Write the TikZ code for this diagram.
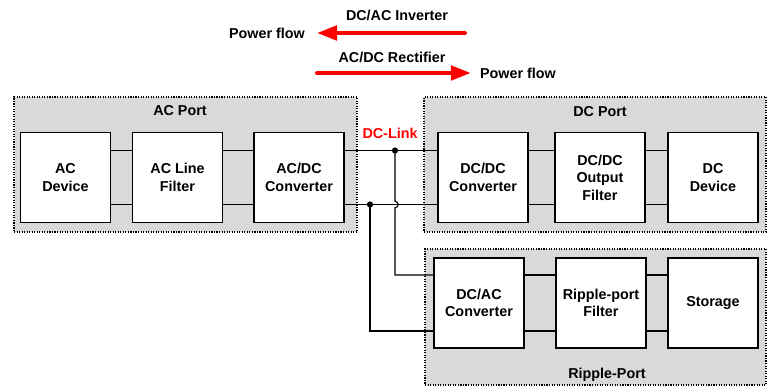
\documentclass[tikz,border=0pt]{standalone}
\usepackage{fontspec}
\setmainfont{Liberation Sans}
\usepackage{xcolor}
\usetikzlibrary{positioning, calc, arrows.meta}
\definecolor{portgray}{RGB}{217,217,217}
\tikzstyle{wire} = [line width=0.8pt,-]
\tikzstyle{flow} = [line width=2.8pt, red, line cap=round, -{Triangle[length=0.5cm,width=0.36cm]}]

\begin{document}
\begin{tikzpicture}[
    font=\fontsize{10.2}{12.5}\selectfont\bfseries,
    block/.style={rectangle, draw, line width=0.8pt, minimum width=2.25cm, minimum height=2.25cm, fill=white, align=center},
    port/.style={rectangle, draw, densely dotted, line width=0.8pt, fill=portgray},
    junction/.style={circle, fill, inner sep=0pt, minimum size=4.4pt}
]
    \useasboundingbox (0,0) rectangle (19.175,-9.675);

    % power flow directions
    \node (invlabel) at (9.925,-0.375) {DC/AC Inverter};
    \node (pfleft) at (6.675,-0.825) {Power flow};
    \coordinate (invtail) at (11.625,-0.825);
    \draw[flow, shorten >=0.18cm] (invtail) -- (pfleft);

    \node (reclabel) at (9.8,-1.425) {AC/DC Rectifier};
    \node (pfright) at (12.95,-1.825) {Power flow};
    \coordinate (rectail) at (7.925,-1.825);
    \draw[flow, shorten >=0.11cm] (rectail) -- (pfright);

    % ports
    \node[port, minimum width=8.575cm, minimum height=3.375cm] (acport) at (4.6375,-4.1125) {};
    \node[port, minimum width=8.55cm, minimum height=3.375cm] (dcport) at (14.875,-4.1125) {};
    \node[port, minimum width=8.525cm, minimum height=3.4cm] (ripport) at (14.8875,-7.925) {};

    \node at (4.5,-2.775) {AC Port};
    \node at (15.0,-2.8) {DC Port};
    \node at (15.175,-9.375) {Ripple-Port};

    % blocks
    \node[block] (acdev) at (1.6375,-4.4375) {AC\\Device};
    \node[block] (aclf) at (4.4375,-4.4375) {AC Line\\Filter};
    \node[block] (acdc) at (7.475,-4.4375) {AC/DC\\Converter};
    \node[block] (dcdc) at (12.075,-4.4375) {DC/DC\\Converter};
    \node[block] (dcfil) at (15.0,-4.4375) {DC/DC\\Output\\Filter};
    \node[block] (dcdev) at (17.825,-4.4375) {DC\\Device};
    \node[block] (dcac) at (11.975,-7.575) {DC/AC\\Converter};
    \node[block] (ripfil) at (15.025,-7.575) {Ripple-port\\Filter};
    \node[block] (storage) at (17.825,-7.575) {Storage};

    % AC port wiring
    \draw[wire] ([yshift=0.675cm]acdev.east) -- ([yshift=0.675cm]aclf.west);
    \draw[wire] ([yshift=-0.675cm]acdev.east) -- ([yshift=-0.675cm]aclf.west);
    \draw[wire] ([yshift=0.675cm]aclf.east) -- ([yshift=0.675cm]acdc.west);
    \draw[wire] ([yshift=-0.675cm]aclf.east) -- ([yshift=-0.675cm]acdc.west);

    % DC link
    \draw[wire] ([yshift=0.675cm]acdc.east) -- ([yshift=0.675cm]dcdc.west);
    \draw[wire] ([yshift=-0.675cm]acdc.east) -- ([yshift=-0.675cm]dcdc.west);
    \node[red] (dclink) at (9.75,-3.325) {DC-Link};

    % DC port wiring
    \draw[wire] ([yshift=0.675cm]dcdc.east) -- ([yshift=0.675cm]dcfil.west);
    \draw[wire] ([yshift=-0.675cm]dcdc.east) -- ([yshift=-0.675cm]dcfil.west);
    \draw[wire] ([yshift=0.675cm]dcfil.east) -- ([yshift=0.675cm]dcdev.west);
    \draw[wire] ([yshift=-0.675cm]dcfil.east) -- ([yshift=-0.675cm]dcdev.west);

    % ripple port wiring
    \coordinate (ja) at (9.875,-3.7625);
    \coordinate (jb) at (9.25,-5.1125);
    \draw[wire] (ja) -- (9.875,-5.0325) arc (90:-90:0.08) |- ([yshift=0.7cm]dcac.west);
    \draw[wire] (jb) |- ([yshift=-0.7cm]dcac.west);
    \node[junction] at (ja) {};
    \node[junction] at (jb) {};

    \draw[wire] ([yshift=0.7cm]dcac.east) -- ([yshift=0.7cm]ripfil.west);
    \draw[wire] ([yshift=-0.7cm]dcac.east) -- ([yshift=-0.7cm]ripfil.west);
    \draw[wire] ([yshift=0.7cm]ripfil.east) -- ([yshift=0.7cm]storage.west);
    \draw[wire] ([yshift=-0.7cm]ripfil.east) -- ([yshift=-0.7cm]storage.west);
\end{tikzpicture}
\end{document}
